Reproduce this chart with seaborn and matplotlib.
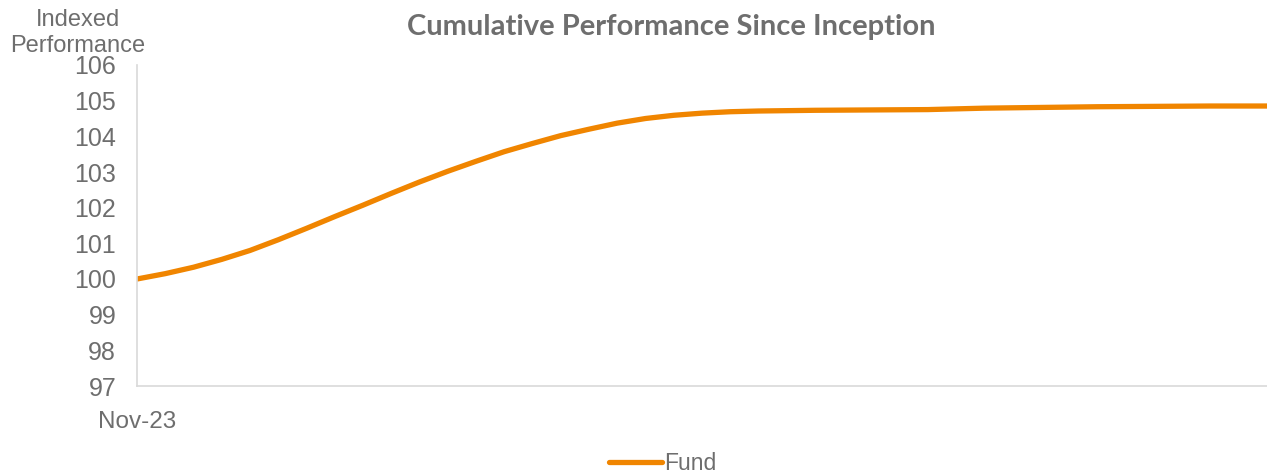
import numpy as np
import pandas as pd
import matplotlib
matplotlib.use("Agg")
import matplotlib.pyplot as plt
import seaborn as sns

# Twice-weekly readings of the fund's indexed performance
dates = pd.date_range("2023-11-30", periods=41, freq="3D12h")
fund_values = [100.00, 100.15, 100.33, 100.55, 100.80, 101.10, 101.42, 101.75,
               102.07, 102.40, 102.72, 103.02, 103.30, 103.57, 103.80, 104.02,
               104.20, 104.37, 104.50, 104.59, 104.65, 104.69, 104.71, 104.72,
               104.73, 104.735, 104.74, 104.745, 104.75, 104.77, 104.79, 104.80,
               104.81, 104.82, 104.83, 104.835, 104.84, 104.845, 104.85, 104.85,
               104.85]
y_ticks = [97, 98, 99, 100, 101, 102, 103, 104, 105, 106]
x_tick_label = "Nov-23"
series_name = "Fund"
title = "Cumulative Performance Since Inception"
y_label = "Indexed\nPerformance"

df = pd.DataFrame({"Date": dates, "Value": fund_values, "Series": series_name})

sns.set_theme(style="white")
plt.rcParams["font.family"] = ["Liberation Sans", "DejaVu Sans"]

text_grey = "#6e6e6e"
line_orange = "#F08500"

fig = plt.figure(figsize=(12.67, 4.72), dpi=100)
ax = fig.add_axes([137 / 1267, 1 - 386 / 472, 1 - 137 / 1267, (386 - 65) / 472])

sns.lineplot(data=df, x="Date", y="Value", hue="Series",
             palette=[line_orange], linewidth=3.8, ax=ax,
             solid_capstyle="round", solid_joinstyle="round")

ax.set_xlim(dates[0], dates[-1])
ax.set_ylim(y_ticks[0], y_ticks[-1])
ax.set_yticks(y_ticks)
ax.set_yticklabels([str(t) for t in y_ticks], fontsize=18, color=text_grey)
ax.set_xticks([dates[0]])
ax.set_xticklabels([x_tick_label], fontsize=17.5, color=text_grey)
ax.tick_params(axis="y", length=0, pad=15)
ax.tick_params(axis="x", length=0, pad=18)
ax.set_xlabel("")
ax.set_ylabel("")

for side in ["top", "right"]:
    ax.spines[side].set_visible(False)
for side in ["left", "bottom"]:
    ax.spines[side].set_color("#d9d9d9")
    ax.spines[side].set_linewidth(1.2)

fig.text(671 / 1267, 1 - 27 / 472, title, ha="center", va="center",
         fontsize=21, fontweight="bold", color=text_grey, family=["Lato", "DejaVu Sans"])
fig.text(78 / 1267, 1 - 33 / 472, y_label, ha="center", va="center",
         fontsize=17, color=text_grey, linespacing=1.2)

leg = ax.legend(loc="center", bbox_to_anchor=(0.465, -0.24),
                frameon=False, fontsize=16.5, handlelength=2.3,
                handletextpad=0.1)
for t in leg.get_texts():
    t.set_color(text_grey)

fig.savefig("out.png", dpi=100)
